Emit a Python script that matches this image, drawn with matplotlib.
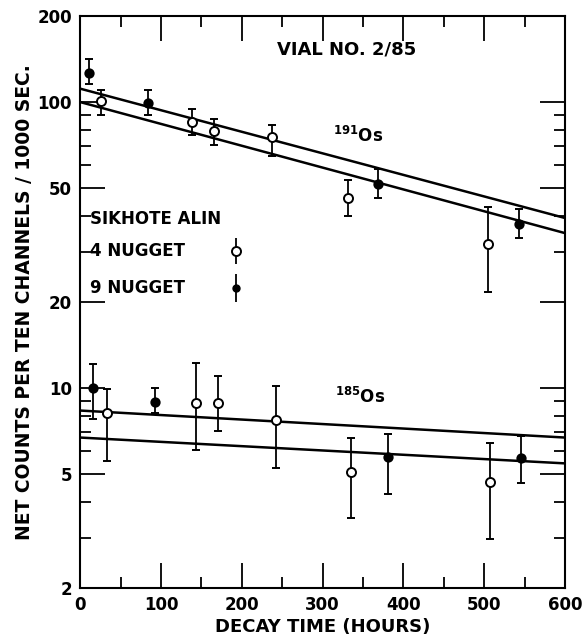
import numpy as np
import matplotlib
matplotlib.use("Agg")
import matplotlib.pyplot as plt
from matplotlib.ticker import FixedLocator, FixedFormatter, NullFormatter

# 191Os - 4 nugget (open)
os191_open_t = [26, 139, 165, 237, 331, 504]
os191_open_v = [100.8, 85.5, 79.5, 75.2, 46.1, 31.8]
os191_open_lo = [90.4, 77.0, 71.0, 65.0, 39.9, 21.7]
os191_open_hi = [110.0, 94.9, 87.5, 83.4, 53.2, 42.9]
# 191Os - 9 nugget (filled)
os191_fill_t = [11, 84, 368, 543]
os191_fill_v = [126.6, 99.5, 51.5, 37.4]
os191_fill_lo = [115.9, 90.4, 46.1, 33.4]
os191_fill_hi = [141.6, 110.0, 58.1, 42.2]

# 185Os - 4 nugget (open)
os185_open_t = [33, 143, 170, 242, 335, 507]
os185_open_v = [8.21, 8.83, 8.83, 7.70, 5.07, 4.68]
os185_open_lo = [5.54, 6.05, 7.05, 5.24, 3.51, 2.97]
os185_open_hi = [9.96, 12.2, 11.0, 10.2, 6.71, 6.40]
# 185Os - 9 nugget (filled)
os185_fill_t = [16, 93, 381, 545]
os185_fill_v = [10.0, 8.97, 5.72, 5.68]
os185_fill_lo = [7.82, 8.15, 4.25, 4.64]
os185_fill_hi = [12.1, 10.0, 6.93, 6.77]

# fitted decay lines (value at t=0 and t=600)
line_t = [0, 600]
fit191_upper = [111.4, 39.3]
fit191_lower = [100.0, 34.8]
fit185_upper = [8.34, 6.71]
fit185_lower = [6.71, 5.45]

plt.rcParams['font.family'] = ['DejaVu Sans']
plt.rcParams['font.weight'] = 'bold'

fig = plt.figure(figsize=(5.85, 6.39), dpi=100)
ax = fig.add_axes([0.137, 0.08, 0.829, 0.895])


def draw_points(t, v, lo, hi, filled):
    v = np.array(v)
    yerr = [v - np.array(lo), np.array(hi) - v]
    ax.errorbar(t, v, yerr=yerr, fmt='o', ms=6.5 if not filled else 6,
                mfc='black' if filled else 'white', mec='black', mew=1.4,
                ecolor='black', elinewidth=1.3, capsize=3, capthick=1.3, zorder=3)


for fit in [fit191_upper, fit191_lower, fit185_upper, fit185_lower]:
    ax.plot(line_t, fit, color='black', lw=1.8, zorder=2)

draw_points(os191_open_t, os191_open_v, os191_open_lo, os191_open_hi, False)
draw_points(os191_fill_t, os191_fill_v, os191_fill_lo, os191_fill_hi, True)
draw_points(os185_open_t, os185_open_v, os185_open_lo, os185_open_hi, False)
draw_points(os185_fill_t, os185_fill_v, os185_fill_lo, os185_fill_hi, True)

# legend drawn by hand like the original
ax.errorbar([193], [30.1], yerr=[[3.0], [3.3]], fmt='o', ms=6.5, mfc='white', mec='black',
            mew=1.4, ecolor='black', elinewidth=1.3, capsize=0, zorder=3)
ax.errorbar([193], [22.4], yerr=[[2.4], [2.6]], fmt='o', ms=5, mfc='black', mec='black',
            ecolor='black', elinewidth=1.3, capsize=0, zorder=3)
ax.text(12, 38.9, 'SIKHOTE ALIN', fontsize=12, va='center')
ax.text(12, 30.1, '4 NUGGET', fontsize=12, va='center')
ax.text(12, 22.4, '9 NUGGET', fontsize=12, va='center')

ax.text(244, 153, 'VIAL NO. 2/85', fontsize=13, va='center')
ax.text(313, 76.4, r'$^{\mathbf{191}}$Os', fontsize=12, va='center')
ax.text(315, 9.27, r'$^{\mathbf{185}}$Os', fontsize=12, va='center')

ax.set_yscale('log')
ax.set_xlim(0, 600)
ax.set_ylim(2, 200)

ax.xaxis.set_major_locator(FixedLocator([0, 100, 200, 300, 400, 500, 600]))
ax.xaxis.set_minor_locator(FixedLocator([50, 150, 250, 350, 450, 550]))
ax.yaxis.set_major_locator(FixedLocator([2, 5, 10, 20, 50, 100, 200]))
ax.yaxis.set_major_formatter(FixedFormatter(['2', '5', '10', '20', '50', '100', '200']))
ax.yaxis.set_minor_locator(FixedLocator([3, 4, 6, 7, 8, 9, 30, 40, 60, 70, 80, 90]))
ax.yaxis.set_minor_formatter(NullFormatter())

ax.tick_params(which='both', direction='in', top=True, right=True, width=1.3)
ax.tick_params(which='major', length=18, labelsize=12, pad=6)
ax.tick_params(which='minor', length=8)
for s in ax.spines.values():
    s.set_linewidth(1.5)

ax.set_xlabel('DECAY TIME (HOURS)', fontsize=13, fontweight='bold', labelpad=3)
ax.set_ylabel('NET COUNTS PER TEN CHANNELS / 1000 SEC.', fontsize=13.5, fontweight='bold', labelpad=2)

fig.savefig('out.png', dpi=100)
